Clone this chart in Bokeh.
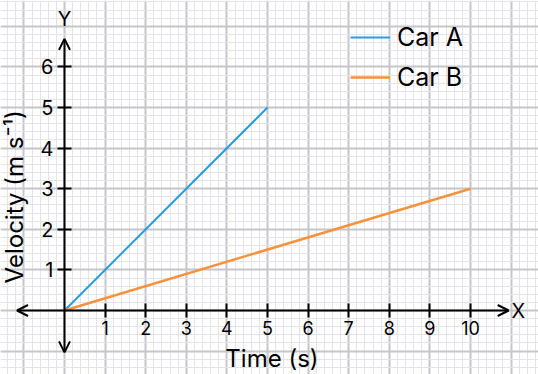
from math import pi
from bokeh.plotting import figure
from bokeh.models import (ColumnDataSource, Grid, SingleIntervalTicker, FixedTicker,
                          LinearAxis, Arrow, OpenHead, Label, Legend, LegendItem, Range1d)
from bokeh.embed import file_html
from bokeh.resources import INLINE

# ---- data ----
car_a_time = [0, 5]
car_a_velocity = [0, 5]
car_b_time = [0, 10]
car_b_velocity = [0, 3]
x_ticks = [1, 2, 3, 4, 5, 6, 7, 8, 9, 10]
y_ticks = [1, 2, 3, 4, 5, 6]
series_names = ["Car A", "Car B"]

FONT = "Inter"
BLUE = "#2a9be0"
ORANGE = "#f7923c"

p = figure(width=538, height=374, output_backend="svg", toolbar_location=None,
           x_range=Range1d(-1.576, 11.675), y_range=Range1d(-1.576, 7.635),
           x_axis_type=None, y_axis_type=None, min_border=0)
p.outline_line_color = None
p.background_fill_color = "white"

for dim in (0, 1):
    g = Grid(dimension=dim, ticker=SingleIntervalTicker(interval=1, num_minor_ticks=5),
             grid_line_color="#c5c5cc", grid_line_width=2,
             minor_grid_line_color="#e3e3e9", minor_grid_line_width=1)
    p.add_layout(g)

# axes with ticks at origin
xax = LinearAxis(fixed_location=0, ticker=FixedTicker(ticks=x_ticks))
xax.axis_line_color = None
xax.major_tick_in = 7
xax.major_tick_out = 7
xax.major_tick_line_width = 2
xax.major_tick_line_color = "black"
xax.minor_tick_line_color = None
xax.major_label_standoff = 3
xax.major_label_text_font = FONT
xax.major_label_text_font_size = "18px"
xax.major_label_text_color = "black"
p.add_layout(xax, "below")

yax = LinearAxis(fixed_location=0, ticker=FixedTicker(ticks=y_ticks))
yax.axis_line_color = None
yax.major_tick_in = 7
yax.major_tick_out = 7
yax.major_tick_line_width = 2
yax.major_tick_line_color = "black"
yax.minor_tick_line_color = None
yax.major_label_standoff = 4
yax.major_label_text_font = FONT
yax.major_label_text_font_size = "20px"
yax.major_label_text_color = "black"
yax.major_label_orientation = "horizontal"
p.add_layout(yax, "left")

# axis lines with open arrow heads
head = dict(size=11, line_width=2)
p.add_layout(Arrow(x_start=-1.17, y_start=0, x_end=10.94, y_end=0,
                   start=OpenHead(**head), end=OpenHead(**head),
                   line_width=2, line_color="black"))
p.add_layout(Arrow(x_start=0, y_start=-1.03, x_end=0, y_end=6.69,
                   start=OpenHead(**head), end=OpenHead(**head),
                   line_width=2, line_color="black"))

src_a = ColumnDataSource(dict(x=car_a_time, y=car_a_velocity))
src_b = ColumnDataSource(dict(x=car_b_time, y=car_b_velocity))
ra = p.line("x", "y", source=src_a, line_color=BLUE, line_width=2)
rb = p.line("x", "y", source=src_b, line_color=ORANGE, line_width=2.5)

# labels
p.add_layout(Label(x=11.18, y=0, text="X", text_font=FONT, text_font_size="20px",
                   text_align="center", text_baseline="middle", text_color="black"))
p.add_layout(Label(x=0, y=7.17, text="Y", text_font=FONT, text_font_size="20px",
                   text_align="center", text_baseline="middle", text_color="black"))
p.add_layout(Label(x=5.11, y=-1.18, text="Time (s)", text_font=FONT, text_font_size="24px",
                   text_align="center", text_baseline="middle", text_color="black"))
p.add_layout(Label(x=-1.24, y=2.8, text="Velocity (m s\u207b\u00b9)", text_font=FONT,
                   text_font_size="24px", angle=pi / 2, text_align="center",
                   text_baseline="middle", text_color="black"))

legend = Legend(items=[LegendItem(label=series_names[0], renderers=[ra]),
                       LegendItem(label=series_names[1], renderers=[rb])],
                location=(350, 374 - 92), orientation="vertical",
                background_fill_alpha=0, border_line_alpha=0, padding=0, margin=0,
                glyph_width=40, glyph_height=20, label_height=20, spacing=10,
                label_standoff=7, label_text_font=FONT, label_text_font_size="25px",
                label_text_color="black")
p.add_layout(legend, "center")

open("out.html", "w").write(file_html(p, INLINE))
